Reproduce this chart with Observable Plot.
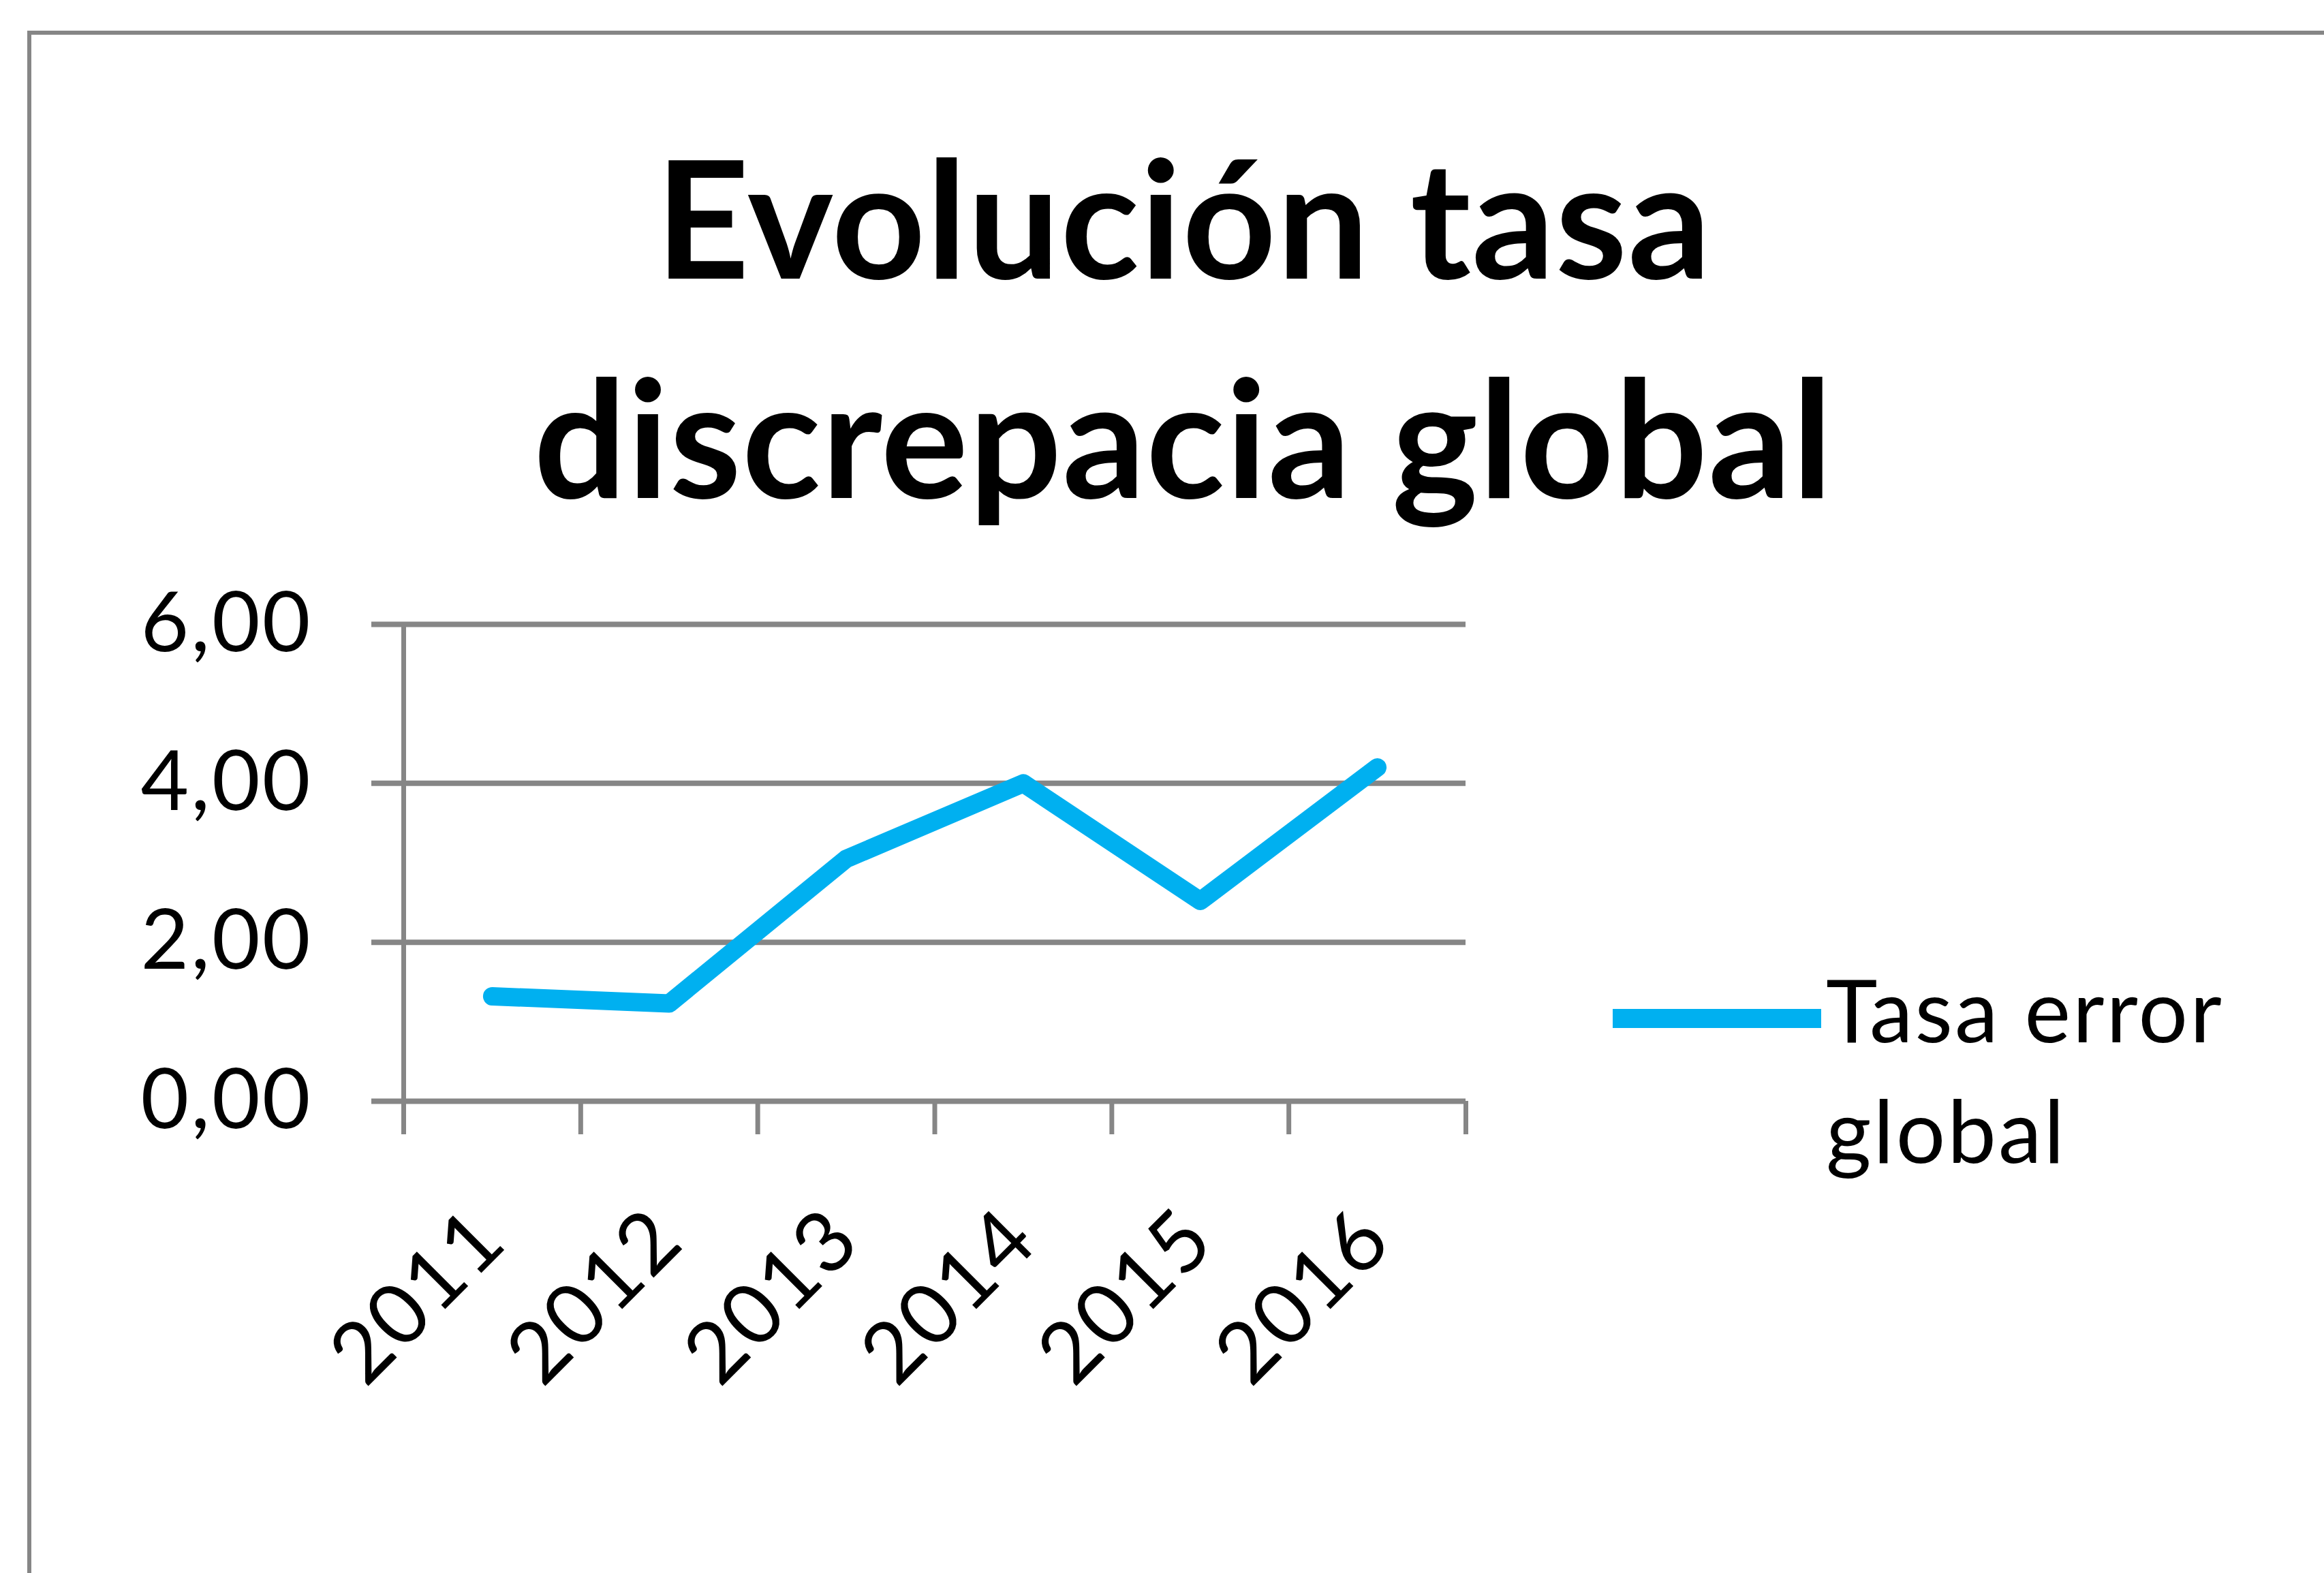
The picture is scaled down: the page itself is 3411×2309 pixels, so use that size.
<!DOCTYPE html>
<html>
<head>
<meta charset="utf-8">
<script src="https://cdn.jsdelivr.net/npm/d3@7"></script>
<script src="https://cdn.jsdelivr.net/npm/@observablehq/plot@0.6"></script>
<style>
  html, body { margin: 0; padding: 0; background: #fff; }
  #chart { position: relative; width: 3411px; height: 2309px; overflow: hidden; background: #fff; font-family: Lato, "Open Sans", sans-serif; }
  #frame { position: absolute; left: 40px; top: 45px; right: -40px; bottom: -40px; border-left: 6px solid #868686; border-top: 6px solid #868686; }
  #plot { position: absolute; left: 0; top: 0; }
  #plot text { letter-spacing: 3px; }
  #title { position: absolute; left: 40px; width: 3394px; top: 155px; text-align: center; font-size: 240px; line-height: 322px; font-weight: 700; color: #000; white-space: nowrap; letter-spacing: 1px; }
  #legend-swatch { position: absolute; left: 2367px; top: 1481px; width: 306px; height: 28px; background: #00B0F0; }
  #legend-text { position: absolute; left: 2680px; top: 1392px; font-size: 128px; line-height: 177px; color: #000; white-space: nowrap; letter-spacing: 3px; }
</style>
</head>
<body>
<div id="chart">
  <div id="frame"></div>
  <div id="plot"></div>
  <div id="title">Evolución tasa<br>discrepacia global</div>
  <div id="legend-swatch"></div>
  <div id="legend-text">Tasa error<br>global</div>
</div>
<script>
const years = ["2011", "2012", "2013", "2014", "2015", "2016"];
const tasaError = [1.32, 1.23, 3.05, 4.00, 2.52, 4.20];
const yTicks = [0, 2, 4, 6];
const seriesName = "Tasa error global";

const data = years.map((year, i) => ({i, year, value: tasaError[i]}));
const boundaries = d3.range(years.length + 1);

const W = 3411, H = 2309;
const chart = Plot.plot({
  width: W,
  height: H,
  marginLeft: 592,
  marginRight: W - 2151,
  marginTop: 916,
  marginBottom: H - 1616,
  x: {type: "linear", domain: [0, years.length]},
  y: {domain: [0, 6]},
  style: {fontFamily: "Lato, 'Open Sans', sans-serif", fontSize: "122px", color: "#000", background: "transparent", overflow: "visible"},
  marks: [
    Plot.ruleY(yTicks, {insetLeft: -47, stroke: "#868686", strokeWidth: 8}),
    Plot.ruleX([0], {stroke: "#868686", strokeWidth: 7}),
    Plot.axisX({ticks: boundaries, tickSize: 49, tickFormat: () => "", label: null, stroke: "#868686", strokeWidth: 7}),
    Plot.axisY({ticks: yTicks, tickSize: 0, tickPadding: 134, tickFormat: d => d.toFixed(2).replace(".", ","), label: null, fontSize: 122, fill: "#000"}),
    Plot.text(data, {x: d => d.i + 0.5, frameAnchor: "bottom", text: "year", rotate: -45, textAnchor: "end", dx: 26, dy: 210, fontSize: 124, fill: "#000"}),
    Plot.line(data, {x: d => d.i + 0.5, y: "value", stroke: "#00B0F0", strokeWidth: 27, strokeLinejoin: "round", strokeLinecap: "round"})
  ]
});
document.getElementById("plot").appendChild(chart);
</script>
</body>
</html>
